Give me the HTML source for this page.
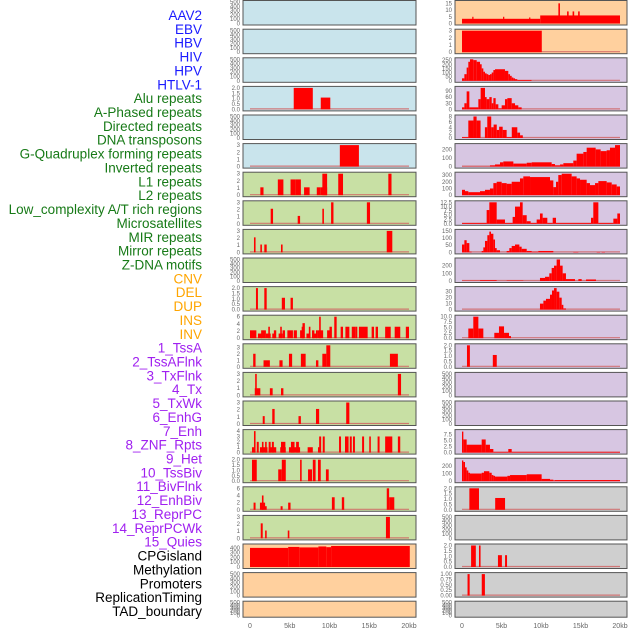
<!DOCTYPE html>
<html><head><meta charset="utf-8"><style>
html,body{margin:0;padding:0;background:#fff;}
svg{display:block;font-family:"Liberation Sans",sans-serif;}
</style></head><body>
<svg id="chart" width="630" height="630" viewBox="0 0 630 630" xmlns="http://www.w3.org/2000/svg"></svg>
<script>
const trackLabels = ["AAV2","EBV","HBV","HIV","HPV","HTLV-1","Alu repeats","A-Phased repeats","Directed repeats","DNA transposons","G-Quadruplex forming repeats","Inverted repeats","L1 repeats","L2 repeats","Low_complexity A/T rich regions","Microsatellites","MIR repeats","Mirror repeats","Z-DNA motifs","CNV","DEL","DUP","INS","INV","1_TssA","2_TssAFlnk","3_TxFlnk","4_Tx","5_TxWk","6_EnhG","7_Enh","8_ZNF_Rpts","9_Het","10_TssBiv","11_BivFlnk","12_EnhBiv","13_ReprPC","14_ReprPCWk","15_Quies","CPGisland","Methylation","Promoters","ReplicationTiming","TAD_boundary"];
const labelGroups = ["v","v","v","v","v","v","r","r","r","r","r","r","r","r","r","r","r","r","r","s","s","s","s","s","c","c","c","c","c","c","c","c","c","c","c","c","c","c","c","o","o","o","o","o"];
const xTickLabels = ["0","5kb","10kb","15kb","20kb"];
const xTickValues = [0,5,10,15,20];
const E = [];
const T500 = ["0","100","200","300","400","500"];
// Left column segments [startKb, endKb, value]
const L3 = [[5.5,7.9,2],[8.9,10.1,1.1]];
const L5 = [[11.3,13.7,3]];
const L6 = [[1.3,1.7,1.1],[3.5,4.2,2.2],[5.1,5.7,2.2],[5.7,6.4,2.2],[6.8,7.5,1.1],[8.4,8.9,1.1],[8.9,9.7,1.1],[9.1,9.7,3],[11.1,11.7,3],[17.4,17.8,3]];
const L7 = [[2.6,2.9,2.1],[6.0,6.3,1.1],[9.1,9.3,2.1],[10.2,10.5,3],[14.7,15.1,3]];
const L8 = [[0.5,0.7,2.1],[1.3,1.5,1.1],[1.8,2.1,1.1],[3.9,4.1,1.1],[17.2,17.9,3]];
const L10 = [[0.75,1.0,2],[1.8,2.1,2],[4.0,4.4,1.1],[5.1,5.4,1.1]];
const L11 = [[0,0.8,2.2],[1.0,1.5,1.3],[1.4,2.0,2.2],[2.0,2.6,1.3],[2.3,2.5,3.2],[2.8,3.1,1.3],[3.0,3.3,2.2],[3.6,4.1,1.3],[3.8,4.0,3.2],[4.1,4.4,2.2],[4.7,5.4,2.2],[5.5,5.9,2.2],[6.3,6.7,2.2],[6.5,6.8,3.2],[6.6,6.9,4.2],[7.1,7.6,1.3],[7.4,7.6,3.2],[7.8,8.1,2.2],[7.9,8.4,1.3],[8.3,8.5,2.2],[8.7,8.9,6],[8.5,9.2,2.2],[9.7,10.1,2.2],[10.0,10.3,3.2],[10.6,10.9,6],[11.4,11.7,3.2],[12.0,12.5,3.2],[12.8,13.3,3.2],[13.3,13.5,3.2],[13.7,14.8,3.2],[15.3,15.6,3.2],[15.8,16.1,3.2],[17.0,17.7,3.2],[18.2,18.9,3.2],[19.6,20,3.2]];
const L12 = [[0.4,0.7,2],[1.7,2.5,1],[3.7,4.1,1],[4.9,5.3,2],[6.4,7.0,2],[8.3,8.6,1],[9.1,9.6,2],[9.6,10.1,3.3],[17.6,18.6,2]];
const L13 = [[0.6,1.3,1],[0.65,0.85,3],[2.5,2.85,1],[3.9,4.2,1],[18.6,19.0,3]];
const L14 = [[1.6,1.85,1.1],[2.8,3.1,2.1],[6.1,6.4,1.1],[8.3,8.7,2.1],[12.1,12.5,3]];
const L15 = [[0.25,0.6,1],[0.5,0.7,4],[0.85,1.1,2],[1.25,2.2,1],[1.5,1.7,2],[1.9,2.1,2],[2.35,2.6,2],[2.35,3.3,1],[2.75,3.0,2],[3.8,4.5,1],[3.9,4.45,2],[4.9,6.3,1],[5.15,5.6,2],[5.8,6.15,2],[7.25,7.9,1],[8.55,8.9,1],[8.7,8.95,3],[9.15,9.4,3],[11.2,11.45,3],[11.95,12.4,3],[12.55,12.8,3],[12.95,13.2,3],[14.1,14.35,3],[15.0,15.2,3],[16.05,16.3,3],[17.0,17.9,3],[18.6,18.9,3]];
const L16 = [[0.25,0.85,2],[3.55,4.0,1.1],[4.0,4.5,2],[6.3,6.5,2],[7.3,7.8,1.1],[7.9,8.25,2],[8.55,8.9,2],[9.55,9.9,1.1]];
const L17 = [[0.45,0.7,2],[1.25,1.9,2],[1.5,1.7,4],[1.85,2.1,1],[3.85,4.1,1],[4.8,5.1,2],[10.3,10.65,3.5],[11.55,11.85,3.5],[17.2,17.5,6],[17.5,18.15,3.5]];
const L18 = [[1.35,1.6,2.1],[1.9,2.1,1.1],[4.75,4.95,1.1],[17.1,17.6,3]];
const L19 = [[0,4.8,400],[4.8,6.2,420],[6.2,8.6,410],[8.6,9.6,430],[9.6,10.2,415],[10.2,20.1,440]];
// Right column segments
const R0 = [[0,9.9,3.5],[9.9,20,6],[12.2,12.4,15],[13.3,13.5,9],[14.0,14.2,9],[14.7,14.9,9],[1.3,1.45,5],[5.2,5.35,5],[8.5,8.6,4.5]];
const R1 = [[0,10.1,3]];
const R2 = [[0,.3,30],[.3,.59,80],[.59,.8,160],[.8,1.01,230],[1.01,1.43,260],[1.43,1.86,250],[1.86,2.28,230],[2.28,2.49,200],[2.49,2.7,150],[2.7,2.91,110],[2.91,3.12,90],[3.12,3.33,80],[3.33,3.54,70],[3.54,3.76,80],[3.76,3.97,100],[3.97,4.18,130],[4.18,5.44,140],[5.44,5.86,120],[5.86,6.08,80],[6.08,6.29,60],[6.29,6.5,40],[6.5,6.71,30],[6.71,7.0,20],[7.0,8.8,10]];
const R3 = [[0,.3,10],[.3,.59,30],[.59,.93,88],[.93,2.07,10],[2.07,2.36,50],[2.36,2.91,105],[2.91,3.12,60],[3.12,3.46,50],[3.46,3.76,60],[3.76,3.97,30],[3.97,4.26,55],[4.26,4.6,25],[4.6,5.02,5],[5.02,5.44,20],[5.44,5.74,50],[5.74,6.29,55],[6.29,6.71,30],[6.71,7.13,20],[7.13,7.55,10]];
const R4 = [[0,0.8,0.3],[0.8,1.45,6.5],[1.45,1.85,8],[1.85,2.35,6.5],[2.9,3.2,4],[3.2,3.7,8],[3.7,4.0,4],[4.0,4.4,5],[4.4,4.7,3],[4.7,5.15,4.2],[5.15,5.65,3],[5.65,6.3,0.3],[6.3,7.0,4],[7.0,7.35,2],[7.35,7.7,1]];
const R5 = [[0,3.54,2],[3.54,4.18,15],[4.18,4.81,25],[4.81,5.23,50],[5.23,6.5,60],[6.5,8.19,35],[8.19,8.82,45],[8.82,11.35,50],[11.35,11.77,30],[11.77,12.41,15],[12.41,12.83,25],[12.83,14.09,40],[14.09,14.51,70],[14.51,15.36,150],[15.36,15.78,170],[15.78,16.92,220],[16.92,17.55,200],[17.55,18.31,180],[18.31,18.73,190],[18.73,19.37,220],[19.37,20,250]];
const R6 = [[0,.38,80],[.38,.8,60],[.8,2.28,45],[2.28,2.91,60],[2.91,3.54,80],[3.54,3.97,100],[3.97,4.39,180],[4.39,5.02,200],[5.02,5.65,180],[5.65,6.29,170],[6.29,7.34,200],[7.34,7.76,250],[7.76,8.61,280],[8.61,11.14,270],[11.14,11.56,220],[11.56,11.9,120],[11.9,12.19,200],[12.19,12.62,300],[12.62,13.88,320],[13.88,14.51,280],[14.51,14.94,250],[14.94,15.78,230],[15.78,16.2,180],[16.2,16.84,150],[16.84,17.26,180],[17.26,18.31,210],[18.31,18.95,190],[18.95,19.58,160],[19.58,20,130]];
const R7 = [[0,3.12,0.5],[3.12,3.46,8],[3.46,4.39,12.5],[4.39,5.44,2.5],[5.44,6.41,0.5],[6.41,6.71,4],[6.71,7.34,10],[7.34,7.68,12.5],[7.68,8.19,5],[8.19,8.69,1.5],[8.69,9.45,0.5],[9.45,9.87,2.5],[9.87,10.21,6],[10.21,10.8,3.5],[10.8,11.48,0.5],[11.48,11.9,3.5],[11.9,16.33,0.5],[16.33,16.62,3.5],[16.62,17.26,12.5],[17.26,19.16,0.5],[19.16,19.66,3],[19.66,20,6]];
const R8 = [[0,.3,55],[.3,.59,85],[.59,.93,65],[.93,1.22,5],[2.49,2.7,10],[2.7,2.91,35],[2.91,3.21,80],[3.21,3.46,120],[3.46,3.67,145],[3.67,3.97,130],[3.97,4.18,90],[4.18,4.39,30],[4.39,4.81,15],[5.65,5.99,10],[5.99,6.29,30],[6.29,6.71,45],[6.71,7.26,55],[7.26,7.55,40],[7.55,8.19,25],[8.19,8.82,10],[8.82,9.66,5],[9.66,11.56,10],[14.09,14.73,3],[17.05,17.47,3],[17.68,18.1,3]];
const R9 = [[0,2.28,3],[2.28,4.39,10],[5.65,7.76,5],[9.87,10.51,40],[10.51,11.05,55],[11.05,11.35,100],[11.35,11.65,170],[11.65,11.98,200],[11.98,12.41,280],[12.41,12.74,200],[12.74,13.16,100],[13.16,14.3,25],[14.73,15.15,25],[15.7,16.96,20]];
const R10 = [[9.87,10.3,10],[10.3,10.63,15],[10.63,11.14,18],[11.14,11.39,25],[11.39,11.65,32],[11.65,11.98,36],[11.98,12.32,30],[12.32,12.62,20],[12.62,12.83,8],[12.83,13.16,2]];
const R11 = [[0.8,1.43,4.5],[1.43,2.07,10],[2.07,2.7,4.5],[4.09,4.68,2.5],[4.68,5.32,5.5],[5.32,5.95,2.5],[5.95,6.2,1]];
const R12 = [[0.63,1.0,2],[3.9,4.4,1.1]];
const R15 = [[0,.17,8.8],[.17,.59,5.5],[.59,2.49,3.3],[2.49,3.0,5.5],[3.0,3.54,3.3],[3.54,3.97,1.5],[3.97,5.86,0.3],[5.86,6.29,1.5],[6.29,20,0.3]];
const R16 = [[0,.17,270],[.17,.38,250],[.38,.59,180],[.59,.8,140],[.8,1.01,110],[1.01,2.49,100],[2.49,2.78,110],[2.78,3.46,130],[3.46,3.76,110],[3.76,3.97,80],[3.97,4.18,70],[4.18,5.74,60],[5.74,6.08,70],[6.08,8.19,80],[8.19,10.08,90],[10.08,11.14,30],[11.14,11.56,20],[11.56,11.77,10],[11.77,20,15]];
const R17 = [[0.93,2.15,2],[4.2,5.45,1.1]];
const R19 = [[1.15,1.75,2],[2.15,2.35,2],[4.55,5.05,1.1],[5.45,5.7,1.1]];
const R20 = [[0.7,0.97,1],[2.5,2.9,1]];
// panel specs: [segments, ymax, ticks, bg]
const BLUE="#c9e4ec", GREEN="#c8e0a4", PEACH="#ffd09e", PURP="#d7c6e2", GRAY="#cfcfcf";
const T3=["0","1","2","3"], T2=["0.0","0.5","1.0","1.5","2.0"];
const leftPanels = [
 [E,500,T500,BLUE],[E,500,T500,BLUE],[E,500,T500,BLUE],[L3,2,T2,BLUE],[E,500,T500,BLUE],[L5,3,T3,BLUE],
 [L6,3,T3,GREEN],[L7,3,T3,GREEN],[L8,3,T3,GREEN],[E,500,T500,GREEN],[L10,2,T2,GREEN],[L11,6,["0","2","4","6"],GREEN],
 [L12,3.3,T3,GREEN],[L13,3,T3,GREEN],[L14,3,T3,GREEN],[L15,4,["0","1","2","3","4"],GREEN],[L16,2,T2,GREEN],[L17,6,["0","2","4","6"],GREEN],
 [L18,3,T3,GREEN],[L19,450,["0","100","200","300","400"],PEACH],[E,500,T500,PEACH],[E,500,T500,PEACH]];
const rightPanels = [
 [R0,16,["0","5","10","15"],PEACH],[R1,3,T3,PEACH],[R2,260,["0","50","100","150","200","250"],PURP],[R3,105,["0","30","60","90"],PURP],
 [R4,8,["0","2","4","6","8"],PURP],[R5,250,["0","100","200"],PURP],[R6,320,["0","100","200","300"],PURP],[R7,12.5,["0.0","2.5","5.0","7.5","10.0","12.5"],PURP],
 [R8,150,["0","50","100","150"],PURP],[R9,280,["0","100","200"],PURP],[R10,36,["0","10","20","30"],PURP],[R11,10,["0.0","2.5","5.0","7.5","10.0"],PURP],
 [R12,2,T2,PURP],[E,500,T500,PURP],[E,500,T500,PURP],[R15,9,["0.0","2.5","5.0","7.5"],PURP],[R16,280,["0","100","200"],PURP],
 [R17,2,T2,GRAY],[E,500,T500,GRAY],[R19,2,T2,GRAY],[R20,1,["0.00","0.25","0.50","0.75","1.00"],GRAY],[E,500,T500,GRAY]];

const NS="http://www.w3.org/2000/svg";
const svg=document.getElementById('chart');
function mk(tag,attrs,parent){const e=document.createElementNS(NS,tag);for(const k in attrs)e.setAttribute(k,attrs[k]);(parent||svg).appendChild(e);return e;}
const groupColor={v:"#1a1aff",r:"#177a17",s:"#ffa500",c:"#a020f0",o:"#000000"};

// labels
trackLabels.forEach((t,i)=>{
  const el=mk('text',{x:202,y:20+i*13.86,'text-anchor':'end','font-size':'13.5',fill:groupColor[labelGroups[i]]});
  el.textContent=t;
  
  
});

const cols=[{px0:243,px1:416,x0:250,x20:409,panels:leftPanels,name:'left'},{px0:455,px1:627,x0:462,x20:620,panels:rightPanels,name:'right'}];
cols.forEach(col=>{
  const xs=kb=>col.x0+(col.x20-col.x0)*kb/20;
  col.panels.forEach((p,r)=>{
    const [segs,ymax,ticks,bg]=p;
    const top=r===0?0.5:0.6+r*28.6;
    const h=r===21?16:24.5;
    const g=mk('g',{});
    
    
    const rect=mk('rect',{x:col.px0,y:top,width:col.px1-col.px0,height:h,fill:bg,stroke:'#555','stroke-width':1},g);
    
    
    const yTop=top+1.5, yBot=top+h-1.5;
    const ys=v=>yBot-(yBot-yTop)*v/ymax;
    ticks.forEach(tk=>{
      const tt=mk('text',{x:col.px0-3,y:ys(parseFloat(tk))+2,'text-anchor':'end','font-size':'6',fill:'#666'},g);
      tt.textContent=tk;
      
      
    });
    if(segs.length){
      const bl=mk('line',{x1:xs(0),x2:xs(20),y1:yBot-0.5,y2:yBot-0.5,stroke:'#d06060','stroke-width':1.2,opacity:0.8},g);
      
      
    }
    segs.forEach(s=>{
      const x1=xs(s[0]), x2=xs(s[1]);
      const b=mk('rect',{x:x1,y:ys(s[2]),width:Math.max(1.2,x2-x1),height:yBot-ys(s[2]),fill:'#ff0000'},g);
      
      
    });
  });
  xTickLabels.forEach((t,i)=>{
    const el=mk('text',{x:xs(xTickValues[i]),y:628,'text-anchor':'middle','font-size':'7',fill:'#666'});
    el.textContent=t;
    
    
  });
});
</script>
</body></html>
